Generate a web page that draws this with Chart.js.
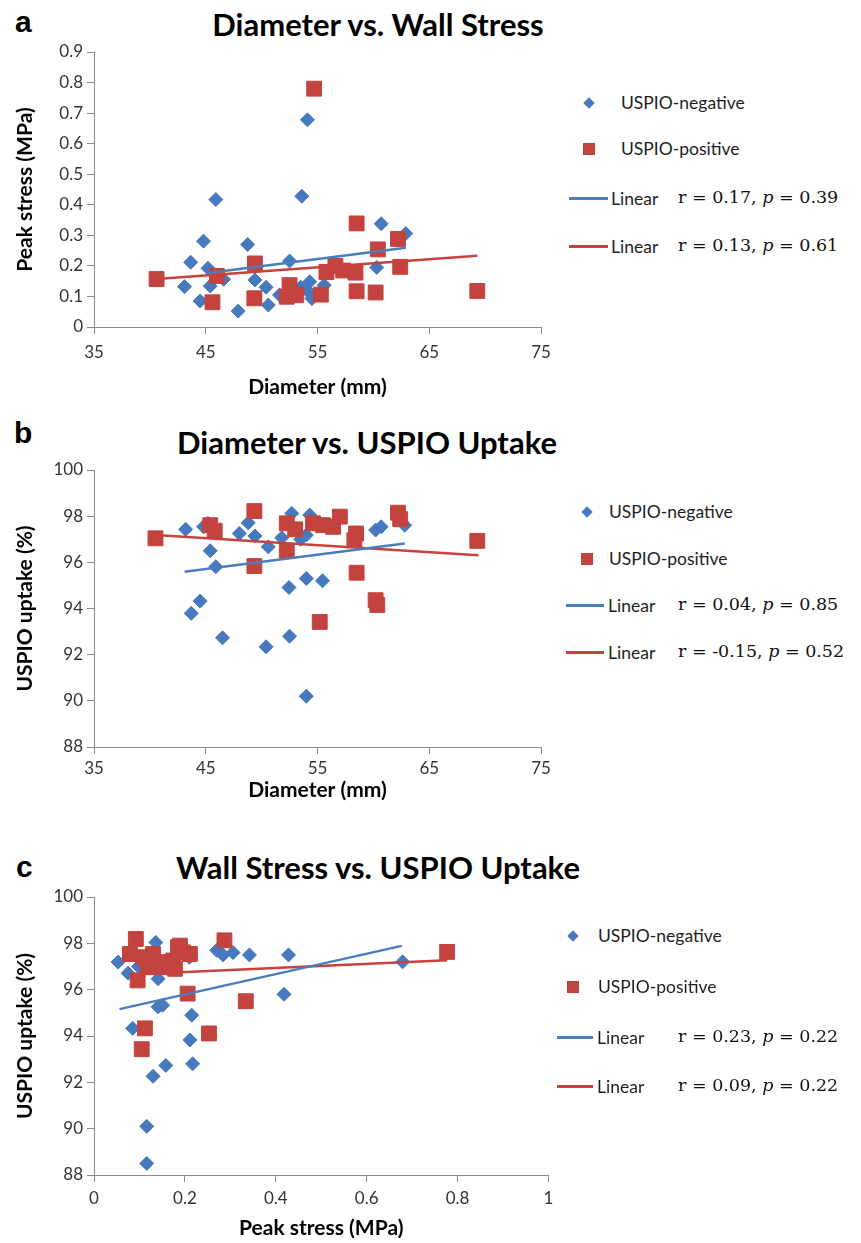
<!DOCTYPE html>
<html>
<head>
<meta charset="utf-8">
<script src="https://cdn.jsdelivr.net/npm/chart.js@4.4.1/dist/chart.umd.min.js"></script>
<style>
  body { margin: 0; background: #fff; width: 861px; height: 1243px; position: relative; overflow: hidden; font-family: Lato, sans-serif; }
  .box { position: absolute; left: 0; width: 560px; }
  .letter { position: absolute; font: bold 30px "Liberation Sans", Arial, sans-serif; line-height: 30px; color: #000; }
  .title { position: absolute; font: bold 31px Lato, sans-serif; line-height: 32px; color: #000; white-space: nowrap; transform: translateX(-50%); }
  .lg { position: absolute; font-size: 17.5px; line-height: 20px; color: #1e1e1e; white-space: nowrap; }
  .stat { position: absolute; font: 17.5px "DejaVu Serif", serif; line-height: 20px; color: #111; white-space: nowrap; }
  .stat i { font-style: italic; }
  .dia { position: absolute; width: 8px; height: 8px; background: #4679BD; transform: rotate(45deg); }
  .sq { position: absolute; width: 12px; height: 12px; background: #C4433E; }
  .ln { position: absolute; height: 2.5px; }
</style>
</head>
<body>

<div class="letter" style="left:15px;top:7px">a</div>
<div class="title" style="left:378px;top:8px">Diameter vs. Wall Stress</div>
<div class="box" style="top:36px;height:374px"><canvas id="chartA" width="560" height="374"></canvas></div>

<div class="letter" style="left:14px;top:418px">b</div>
<div class="title" style="left:367px;top:426px">Diameter vs. USPIO Uptake</div>
<div class="box" style="top:455px;height:351px"><canvas id="chartB" width="560" height="351"></canvas></div>

<div class="letter" style="left:16px;top:852px">c</div>
<div class="title" style="left:378px;top:851px">Wall Stress vs. USPIO Uptake</div>
<div class="box" style="top:882px;height:361px"><canvas id="chartC" width="560" height="361"></canvas></div>

<div id="legends"></div>

<script>
const BLUE = "#4679BD";
const RED = "#C4433E";
const BLUE_LINE = "#4A7EBB";
const RED_LINE = "#C8413D";
const AXIS = "#8A8A8A";

// panel a: diameter (mm) vs peak stress (MPa)
const negDiamA = [43.1, 43.65, 44.5, 44.8, 45.2, 45.4, 45.9, 46.6, 47.9, 48.75, 49.4, 50.4, 50.6, 51.6, 52.5, 52.8, 53.5, 53.6, 54.1, 54.2, 54.3, 54.5, 55.6, 60.3, 60.7, 62.9];
const negStressA = [0.132, 0.212, 0.085, 0.281, 0.192, 0.134, 0.417, 0.156, 0.052, 0.27, 0.154, 0.13, 0.072, 0.105, 0.216, 0.11, 0.13, 0.428, 0.678, 0.115, 0.148, 0.093, 0.137, 0.195, 0.338, 0.306];
const posDiamA = [40.6, 45.6, 46.0, 49.35, 49.4, 52.25, 52.5, 53.1, 54.7, 55.3, 55.8, 56.6, 57.3, 58.4, 58.5, 58.5, 60.2, 60.4, 62.2, 62.4, 69.3];
const posStressA = [0.157, 0.081, 0.167, 0.094, 0.208, 0.099, 0.137, 0.104, 0.78, 0.106, 0.18, 0.20, 0.185, 0.178, 0.339, 0.117, 0.113, 0.254, 0.288, 0.197, 0.118];
const negFitXA = [45.2, 62.9];
const negFitYA = [0.177, 0.259];
const posFitXA = [40.6, 69.3];
const posFitYA = [0.157, 0.233];

// panel b: diameter (mm) vs USPIO uptake (%)
const negDiamB = [43.2, 43.7, 44.5, 44.8, 45.2, 45.4, 45.9, 46.5, 48.0, 48.8, 49.4, 50.4, 50.6, 51.8, 52.45, 52.5, 52.7, 53.5, 54.0, 54.0, 54.0, 54.3, 55.45, 60.2, 60.7, 62.8];
const negUptakeB = [97.43, 93.79, 94.32, 97.54, 97.69, 96.5, 95.81, 92.73, 97.25, 97.71, 97.14, 92.34, 96.67, 97.06, 94.91, 92.8, 98.12, 97.0, 97.18, 95.3, 90.2, 98.05, 95.2, 97.4, 97.54, 97.61];
const posDiamB = [40.5, 45.4, 45.8, 49.35, 49.35, 52.25, 52.25, 53.0, 54.6, 55.2, 55.5, 56.4, 57.0, 58.3, 58.45, 58.5, 60.2, 60.35, 62.2, 62.4, 69.3];
const posUptakeB = [97.04, 97.61, 97.37, 98.22, 95.84, 97.69, 96.5, 97.43, 97.69, 93.42, 97.61, 97.54, 97.98, 96.96, 97.25, 95.55, 94.36, 94.15, 98.15, 97.87, 96.93];
const negFitXB = [43.1, 62.8];
const negFitYB = [95.59, 96.82];
const posFitXB = [40.5, 69.4];
const posFitYB = [97.18, 96.31];

// panel c: peak stress (MPa) vs USPIO uptake (%)
const negStressC = [0.053, 0.075, 0.085, 0.098, 0.116, 0.116, 0.12, 0.130, 0.136, 0.141, 0.141, 0.151, 0.158, 0.21, 0.211, 0.215, 0.217, 0.27, 0.284, 0.306, 0.342, 0.418, 0.428, 0.679];
const negUptakeC = [97.19, 96.71, 94.33, 97.0, 90.1, 88.5, 97.1, 92.26, 98.04, 96.47, 95.26, 95.33, 92.73, 97.4, 93.83, 94.9, 92.8, 97.7, 97.5, 97.6, 97.5, 95.8, 97.5, 97.2];
const posStressC = [0.079, 0.092, 0.096, 0.105, 0.112, 0.108, 0.119, 0.127, 0.130, 0.138, 0.149, 0.163, 0.174, 0.178, 0.185, 0.189, 0.196, 0.206, 0.211, 0.253, 0.287, 0.334, 0.777];
const posUptakeC = [97.54, 98.19, 96.4, 93.43, 94.33, 97.4, 96.97, 97.04, 97.54, 97.11, 97.19, 96.97, 97.26, 96.9, 97.83, 97.9, 97.61, 95.83, 97.54, 94.11, 98.13, 95.5, 97.63];
const negFitXC = [0.056, 0.677];
const negFitYC = [95.16, 97.89];
const posFitXC = [0.08, 0.777];
const posFitYC = [96.66, 97.27];

// ticks
const diamTicks = [35, 45, 55, 65, 75];
const stressTicks = [0, 0.1, 0.2, 0.3, 0.4, 0.5, 0.6, 0.7, 0.8, 0.9];
const uptakeTicks = [88, 90, 92, 94, 96, 98, 100];
const stressTicksC = [0, 0.2, 0.4, 0.6, 0.8, 1];

// legend text
const legendStats = {
  a: [["0.17", "0.39"], ["0.13", "0.61"]],
  b: [["0.04", "0.85"], ["-0.15", "0.52"]],
  c: [["0.23", "0.22"], ["0.09", "0.22"]]
};

Chart.defaults.font.family = "Lato, sans-serif";

function pts(xs, ys) {
  return xs.map((x, i) => ({ x: x, y: ys[i] }));
}

function axis(ticksArr, title, tickPad, titlePad, fixSize) {
  return {
    type: "linear",
    min: ticksArr[0],
    max: ticksArr[ticksArr.length - 1],
    afterBuildTicks: s => { s.ticks = ticksArr.map(v => ({ value: v })); },
    afterFit: fixSize,
    grid: { drawOnChartArea: false, drawTicks: true, tickLength: 7, color: AXIS },
    border: { display: true, color: AXIS, width: 1 },
    ticks: { padding: tickPad, color: "#333", font: { size: 17 }, callback: v => String(v) },
    title: { display: true, text: title, color: "#000", font: { size: 21, weight: "bold" }, padding: titlePad }
  };
}

function makePanel(id, p) {
  return new Chart(document.getElementById(id), {
    type: "scatter",
    data: {
      datasets: [
        { type: "line", data: pts(p.nfx, p.nfy), borderColor: BLUE_LINE, borderWidth: 2.5, pointRadius: 0, fill: false },
        { type: "line", data: pts(p.pfx, p.pfy), borderColor: RED_LINE, borderWidth: 2.5, pointRadius: 0, fill: false },
        { data: pts(p.px, p.py), pointStyle: "rect", pointRadius: 10.5, backgroundColor: RED, borderColor: RED, borderWidth: 1 },
        { data: pts(p.nx, p.ny), pointStyle: "rectRot", pointRadius: 7, backgroundColor: BLUE, borderColor: BLUE, borderWidth: 1 }
      ]
    },
    options: {
      responsive: false,
      animation: false,
      events: [],
      layout: { padding: { top: p.padTop, right: p.padRight, left: 0, bottom: 0 } },
      plugins: { legend: { display: false }, tooltip: { enabled: false } },
      scales: {
        x: axis(p.xTicks, p.xTitle, p.xTickPad, { top: 0, bottom: p.xTitlePad }, s => { s.height = p.xH; }),
        y: axis(p.yTicks, p.yTitle, 4, { top: 13, bottom: 0 }, s => { s.width = 94; })
      }
    }
  });
}

makePanel("chartA", {
  nx: negDiamA, ny: negStressA, px: posDiamA, py: posStressA,
  nfx: negFitXA, nfy: negFitYA, pfx: posFitXA, pfy: posFitYA,
  xTicks: diamTicks, yTicks: stressTicks,
  xTitle: "Diameter (mm)", yTitle: "Peak stress (MPa)",
  padTop: 16, padRight: 19, xH: 83, xTickPad: 8, xTitlePad: 10
});

makePanel("chartB", {
  nx: negDiamB, ny: negUptakeB, px: posDiamB, py: posUptakeB,
  nfx: negFitXB, nfy: negFitYB, pfx: posFitXB, pfy: posFitYB,
  xTicks: diamTicks, yTicks: uptakeTicks,
  xTitle: "Diameter (mm)", yTitle: "USPIO uptake (%)",
  padTop: 15, padRight: 19, xH: 59, xTickPad: 4, xTitlePad: 3
});

makePanel("chartC", {
  nx: negStressC, ny: negUptakeC, px: posStressC, py: posUptakeC,
  nfx: negFitXC, nfy: negFitYC, pfx: posFitXC, pfy: posFitYC,
  xTicks: stressTicksC, yTicks: uptakeTicks,
  xTitle: "Peak stress (MPa)", yTitle: "USPIO uptake (%)",
  padTop: 15, padRight: 10, xH: 68, xTickPad: 6, xTitlePad: 2
});

// legends (html, to the right of each plot)
const legendPos = {
  a: { mx: 589, tx: 621, lx0: 569, lx1: 608, linX: 611, rows: [103, 149, 198, 246] },
  b: { mx: 587, tx: 609, lx0: 566, lx1: 604, linX: 608, rows: [512, 559, 605, 652] },
  c: { mx: 573, tx: 598, lx0: 557, lx1: 593, linX: 597, rows: [936, 987, 1037, 1086] }
};

const host = document.getElementById("legends");
function add(html) { host.insertAdjacentHTML("beforeend", html); }

Object.keys(legendPos).forEach(k => {
  const L = legendPos[k];
  const r = L.rows;
  add(`<div class="dia" style="left:${L.mx - 4}px;top:${r[0] - 4}px"></div>`);
  add(`<div class="lg" style="left:${L.tx}px;top:${r[0] - 10}px">USPIO-negative</div>`);
  add(`<div class="sq" style="left:${L.mx - 6}px;top:${r[1] - 6}px"></div>`);
  add(`<div class="lg" style="left:${L.tx}px;top:${r[1] - 10}px">USPIO-positive</div>`);
  [BLUE_LINE, RED_LINE].forEach((c, i) => {
    const y = r[2 + i];
    const s = legendStats[k][i];
    add(`<div class="ln" style="left:${L.lx0}px;width:${L.lx1 - L.lx0}px;top:${y - 1}px;background:${c}"></div>`);
    add(`<div class="lg" style="left:${L.linX}px;top:${y - 9}px">Linear</div>`);
    add(`<div class="stat" style="left:678px;top:${y - 11}px">r = ${s[0]}, <i>p</i> = ${s[1]}</div>`);
  });
});
</script>
</body>
</html>
